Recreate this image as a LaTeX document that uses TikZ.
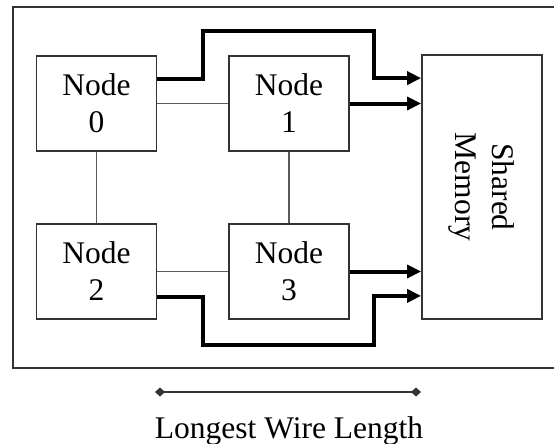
\documentclass[tikz,border=0pt]{standalone}
\usepackage{fontspec}
\setmainfont{Liberation Serif}
\usepackage{tikz}
\usetikzlibrary{arrows.meta,positioning,calc}
\definecolor{frameink}{HTML}{333333}
\definecolor{linkgray}{HTML}{5A5A5A}
\definecolor{busink}  {HTML}{000000}

\begin{document}
\begin{tikzpicture}[x=1pt,y=-1pt,font=\fontsize{31.5}{37}\selectfont,
    procbox/.style={draw=frameink,line width=1.8pt,minimum width=120pt,minimum height=95pt,align=center,inner sep=0pt},
    link/.style={draw=linkgray,line width=1.6pt},
    bus/.style={draw=busink,line width=4pt,-{Triangle[length=14pt,width=13pt]}}]
    \useasboundingbox (0,0) rectangle (554,444);
    % board outline, cut off at the right
    \draw[draw=frameink,line width=2pt] (13,7) rectangle (560,368);
    \node[procbox] (n0) at ( 96.5,103.5) {Node\\0};
    \node[procbox] (n1) at (289.0,103.5) {Node\\1};
    \node[procbox] (n2) at ( 96.5,271.5) {Node\\2};
    \node[procbox] (n3) at (289.0,271.5) {Node\\3};
    \node[procbox,minimum height=264pt] (mem) at (482,187) {};
    \node[rotate=-90,align=center] (memlabel) at (mem.center) {Shared\\Memory};
    % short links between neighbours
    \draw[link] (n0) -- (n1);
    \draw[link] (n0) -- (n2);
    \draw[link] (n1) -- (n3);
    \draw[link] (n2) -- (n3);
    % wires to the memory
    \draw[bus] ([yshift=-24pt]n0.north east) -- ++(46,0) -- ++(0,-48) -- ++(171,0) |- ([yshift=-24pt]mem.north west);
    \draw[bus] (n1.east) -- (n1.east -| mem.west);
    \draw[bus] (n3.east) -- (n3.east -| mem.west);
    \draw[bus] ([yshift=23pt]n2.south east) -- ++(46,0) -- ++(0,48) -- ++(171,0) |- ([yshift=24pt]mem.south west);
    % longest wire
    \coordinate (wl) at (155,392);
    \coordinate (wr) at (421,392);
    \draw[draw=frameink,line width=1.6pt,{Diamond[length=10pt,width=9pt]}-{Diamond[length=10pt,width=9pt]}] (wl) -- (wr);
    \node[anchor=base] (wlen) at (289,438) {Longest Wire Length};
  \end{tikzpicture}
\end{document}
